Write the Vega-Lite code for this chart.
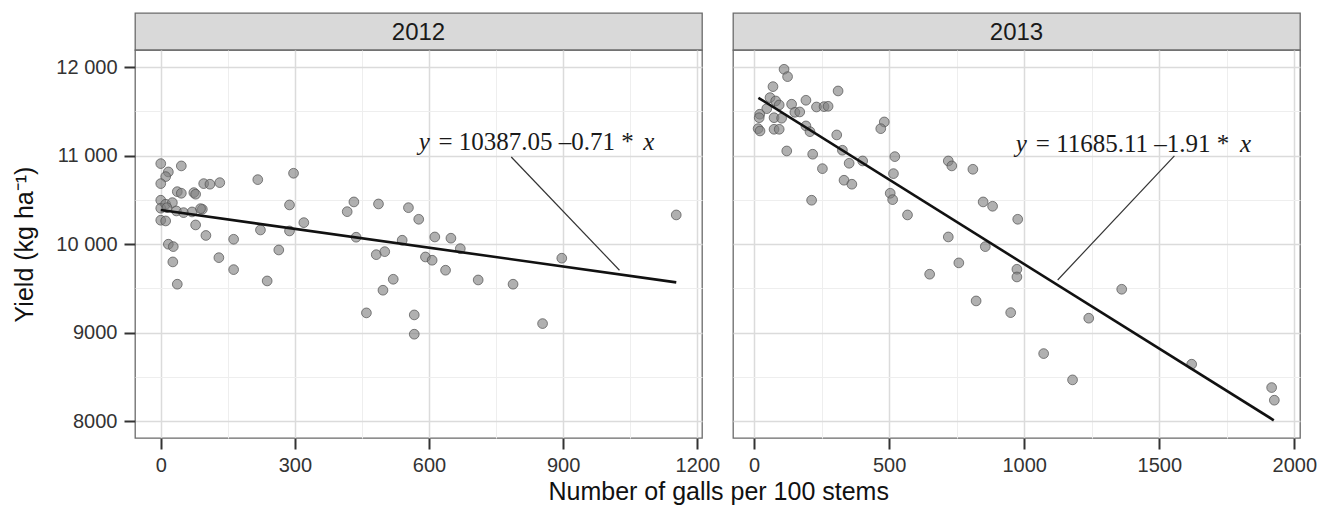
{
  "$schema": "https://vega.github.io/schema/vega-lite/v6.json",
  "background": "white",
  "padding": {"left": 12, "top": 12, "right": 5, "bottom": 4},
  "bounds": "flush",
  "columns": 2,
  "spacing": {"row": 0, "column": 31},
  "config": {
    "font": "Liberation Sans",
    "view": {"stroke": "#6a6a6a", "strokeWidth": 1.3},
    "axis": {
      "labelFont": "Liberation Sans",
      "labelFontSize": 20,
      "labelColor": "#333333",
      "tickColor": "#333333",
      "tickWidth": 2,
      "tickSize": 11,
      "domain": false,
      "labelFlush": false,
      "labelOverlap": false,
      "titleFont": "Liberation Sans",
      "titleFontSize": 25,
      "titleFontWeight": "normal",
      "titleColor": "#111111"
    }
  },
  "title": {
    "text": "Number of galls per 100 stems",
    "orient": "bottom",
    "anchor": "middle",
    "font": "Liberation Sans",
    "fontSize": 25,
    "fontWeight": "normal",
    "color": "#111111",
    "offset": 4,
    "dx": 54
  },
  "datasets": {
    "points": [
      {"year": 2012, "galls": 0, "yield": 10911},
      {"year": 2012, "galls": 46, "yield": 10885},
      {"year": 2012, "galls": 17, "yield": 10817},
      {"year": 2012, "galls": 11, "yield": 10764},
      {"year": 2012, "galls": 0, "yield": 10685},
      {"year": 2012, "galls": 96, "yield": 10685},
      {"year": 2012, "galls": 110, "yield": 10678},
      {"year": 2012, "galls": 132, "yield": 10696},
      {"year": 2012, "galls": 217, "yield": 10730},
      {"year": 2012, "galls": 297, "yield": 10802},
      {"year": 2012, "galls": 37, "yield": 10594},
      {"year": 2012, "galls": 46, "yield": 10576},
      {"year": 2012, "galls": 74, "yield": 10583},
      {"year": 2012, "galls": 78, "yield": 10565},
      {"year": 2012, "galls": 0, "yield": 10497},
      {"year": 2012, "galls": 0, "yield": 10407},
      {"year": 2012, "galls": 11, "yield": 10452},
      {"year": 2012, "galls": 26, "yield": 10470},
      {"year": 2012, "galls": 14, "yield": 10413},
      {"year": 2012, "galls": 35, "yield": 10376},
      {"year": 2012, "galls": 51, "yield": 10357},
      {"year": 2012, "galls": 70, "yield": 10365},
      {"year": 2012, "galls": 93, "yield": 10395},
      {"year": 2012, "galls": 89, "yield": 10402},
      {"year": 2012, "galls": 288, "yield": 10444},
      {"year": 2012, "galls": 432, "yield": 10478},
      {"year": 2012, "galls": 417, "yield": 10368},
      {"year": 2012, "galls": 487, "yield": 10455},
      {"year": 2012, "galls": 554, "yield": 10413},
      {"year": 2012, "galls": 577, "yield": 10282},
      {"year": 2012, "galls": 0, "yield": 10271},
      {"year": 2012, "galls": 11, "yield": 10263},
      {"year": 2012, "galls": 320, "yield": 10244},
      {"year": 2012, "galls": 78, "yield": 10218},
      {"year": 2012, "galls": 101, "yield": 10099},
      {"year": 2012, "galls": 223, "yield": 10161},
      {"year": 2012, "galls": 288, "yield": 10150},
      {"year": 2012, "galls": 163, "yield": 10056},
      {"year": 2012, "galls": 17, "yield": 10000},
      {"year": 2012, "galls": 28, "yield": 9973},
      {"year": 2012, "galls": 437, "yield": 10079},
      {"year": 2012, "galls": 540, "yield": 10045},
      {"year": 2012, "galls": 264, "yield": 9935},
      {"year": 2012, "galls": 130, "yield": 9848},
      {"year": 2012, "galls": 27, "yield": 9800},
      {"year": 2012, "galls": 482, "yield": 9882},
      {"year": 2012, "galls": 501, "yield": 9916},
      {"year": 2012, "galls": 163, "yield": 9713},
      {"year": 2012, "galls": 238, "yield": 9585},
      {"year": 2012, "galls": 37, "yield": 9548},
      {"year": 2012, "galls": 520, "yield": 9604},
      {"year": 2012, "galls": 497, "yield": 9480},
      {"year": 2012, "galls": 460, "yield": 9224},
      {"year": 2012, "galls": 567, "yield": 9201},
      {"year": 2012, "galls": 567, "yield": 8983},
      {"year": 2012, "galls": 613, "yield": 10082},
      {"year": 2012, "galls": 649, "yield": 10068},
      {"year": 2012, "galls": 670, "yield": 9950},
      {"year": 2012, "galls": 592, "yield": 9856},
      {"year": 2012, "galls": 607, "yield": 9819},
      {"year": 2012, "galls": 637, "yield": 9706},
      {"year": 2012, "galls": 710, "yield": 9596},
      {"year": 2012, "galls": 788, "yield": 9548},
      {"year": 2012, "galls": 897, "yield": 9842},
      {"year": 2012, "galls": 854, "yield": 9103},
      {"year": 2012, "galls": 1153, "yield": 10331},
      {"year": 2013, "galls": 111, "yield": 11977},
      {"year": 2013, "galls": 124, "yield": 11894},
      {"year": 2013, "galls": 70, "yield": 11781},
      {"year": 2013, "galls": 311, "yield": 11732},
      {"year": 2013, "galls": 59, "yield": 11657},
      {"year": 2013, "galls": 80, "yield": 11619},
      {"year": 2013, "galls": 93, "yield": 11574},
      {"year": 2013, "galls": 139, "yield": 11582},
      {"year": 2013, "galls": 192, "yield": 11627},
      {"year": 2013, "galls": 47, "yield": 11532},
      {"year": 2013, "galls": 231, "yield": 11551},
      {"year": 2013, "galls": 259, "yield": 11555},
      {"year": 2013, "galls": 274, "yield": 11559},
      {"year": 2013, "galls": 151, "yield": 11491},
      {"year": 2013, "galls": 169, "yield": 11495},
      {"year": 2013, "galls": 21, "yield": 11469},
      {"year": 2013, "galls": 19, "yield": 11430},
      {"year": 2013, "galls": 74, "yield": 11430},
      {"year": 2013, "galls": 102, "yield": 11424},
      {"year": 2013, "galls": 482, "yield": 11382},
      {"year": 2013, "galls": 469, "yield": 11306},
      {"year": 2013, "galls": 192, "yield": 11337},
      {"year": 2013, "galls": 207, "yield": 11272},
      {"year": 2013, "galls": 15, "yield": 11306},
      {"year": 2013, "galls": 22, "yield": 11280},
      {"year": 2013, "galls": 74, "yield": 11299},
      {"year": 2013, "galls": 93, "yield": 11299},
      {"year": 2013, "galls": 306, "yield": 11235},
      {"year": 2013, "galls": 121, "yield": 11054},
      {"year": 2013, "galls": 217, "yield": 11017},
      {"year": 2013, "galls": 327, "yield": 11062},
      {"year": 2013, "galls": 352, "yield": 10915},
      {"year": 2013, "galls": 402, "yield": 10941},
      {"year": 2013, "galls": 521, "yield": 10990},
      {"year": 2013, "galls": 253, "yield": 10854},
      {"year": 2013, "galls": 719, "yield": 10941},
      {"year": 2013, "galls": 732, "yield": 10885},
      {"year": 2013, "galls": 810, "yield": 10847},
      {"year": 2013, "galls": 516, "yield": 10798},
      {"year": 2013, "galls": 333, "yield": 10723},
      {"year": 2013, "galls": 362, "yield": 10678},
      {"year": 2013, "galls": 504, "yield": 10576},
      {"year": 2013, "galls": 513, "yield": 10504},
      {"year": 2013, "galls": 213, "yield": 10497},
      {"year": 2013, "galls": 568, "yield": 10331},
      {"year": 2013, "galls": 848, "yield": 10478},
      {"year": 2013, "galls": 883, "yield": 10429},
      {"year": 2013, "galls": 976, "yield": 10282},
      {"year": 2013, "galls": 719, "yield": 10082},
      {"year": 2013, "galls": 856, "yield": 9973},
      {"year": 2013, "galls": 758, "yield": 9789},
      {"year": 2013, "galls": 650, "yield": 9661},
      {"year": 2013, "galls": 973, "yield": 9717},
      {"year": 2013, "galls": 973, "yield": 9630},
      {"year": 2013, "galls": 822, "yield": 9359},
      {"year": 2013, "galls": 950, "yield": 9227},
      {"year": 2013, "galls": 1361, "yield": 9491},
      {"year": 2013, "galls": 1239, "yield": 9164},
      {"year": 2013, "galls": 1072, "yield": 8764},
      {"year": 2013, "galls": 1179, "yield": 8467},
      {"year": 2013, "galls": 1620, "yield": 8644},
      {"year": 2013, "galls": 1916, "yield": 8380},
      {"year": 2013, "galls": 1926, "yield": 8237}
    ],
    "fit": [
      {"year": 2012, "galls": 0, "yield": 10387.05},
      {"year": 2012, "galls": 1153, "yield": 9568.4},
      {"year": 2013, "galls": 16, "yield": 11654.5},
      {"year": 2013, "galls": 1924, "yield": 8010.3}
    ],
    "leaders": [
      {"year": 2012, "galls": 784, "yield": 10986, "galls2": 1026, "yield2": 9706},
      {"year": 2013, "galls": 1556, "yield": 10998, "galls2": 1124, "yield2": 9596}
    ],
    "labels": [
      {"year": 2012, "kind": "y", "text": "y", "galls": 577, "yield": 11062},
      {"year": 2012, "kind": "expr", "text": "= 10387.05 –0.71 *", "galls": 621, "yield": 11062},
      {"year": 2012, "kind": "x", "text": "x", "galls": 1104, "yield": 11062},
      {"year": 2013, "kind": "y", "text": "y", "galls": 969, "yield": 11043},
      {"year": 2013, "kind": "expr", "text": "= 11685.11 –1.91 *", "galls": 1043, "yield": 11043},
      {"year": 2013, "kind": "x", "text": "x", "galls": 1840, "yield": 11043}
    ],
    "strips": [
      {"year": "2012"},
      {"year": "2013"}
    ]
  },
  "concat": [
    {
      "width": 567,
      "height": 37,
      "view": {"fill": "#d9d9d9", "stroke": "#6a6a6a", "strokeWidth": 1.3},
      "data": {"name": "strips"},
      "transform": [{"filter": "datum.year == '2012'"}],
      "mark": {"type": "text", "font": "Liberation Sans", "fontSize": 24, "color": "#1a1a1a", "baseline": "middle", "align": "center", "dy": 1},
      "encoding": {"text": {"field": "year", "type": "nominal"}}
    },
    {
      "width": 567,
      "height": 37,
      "view": {"fill": "#d9d9d9", "stroke": "#6a6a6a", "strokeWidth": 1.3},
      "data": {"name": "strips"},
      "transform": [{"filter": "datum.year == '2013'"}],
      "mark": {"type": "text", "font": "Liberation Sans", "fontSize": 24, "color": "#1a1a1a", "baseline": "middle", "align": "center", "dy": 1},
      "encoding": {"text": {"field": "year", "type": "nominal"}}
    },
    {
      "width": 567,
      "height": 388,
      "layer": [
        {
          "data": {"name": "points"},
          "transform": [{"filter": "datum.year == 2012"}],
          "mark": {"type": "circle", "size": 95, "fill": "#808080", "fillOpacity": 0.62, "stroke": "#505050", "strokeOpacity": 0.7, "strokeWidth": 1},
          "encoding": {
            "x": {
              "field": "galls", "type": "quantitative",
              "scale": {"domain": [-57.6, 1210.6], "nice": false, "zero": false},
              "axis": {
                "title": null, "format": "d",
                "values": [0, 150, 300, 450, 600, 750, 900, 1050, 1200],
                "labelExpr": "datum.value % 300 == 0 ? datum.label : ''",
                "tickOpacity": {"condition": {"test": "datum.value % 300 != 0", "value": 0}, "value": 1},
                "gridColor": {"condition": {"test": "datum.value % 300 != 0", "value": "#eeeeee"}, "value": "#dbdbdb"},
                "gridWidth": {"condition": {"test": "datum.value % 300 != 0", "value": 1}, "value": 1.5},
                "labelPadding": 6
              }
            },
            "y": {
              "field": "yield", "type": "quantitative",
              "scale": {"domain": [7810, 12195], "nice": false, "zero": false},
              "axis": {
                "title": "Yield (kg ha⁻¹)",
                "titlePadding": 18,
                "values": [8000, 8500, 9000, 9500, 10000, 10500, 11000, 11500, 12000],
                "labelExpr": "datum.value % 1000 != 0 ? '' : (datum.value >= 10000 ? floor(datum.value / 1000) + ' 000' : '' + datum.value)",
                "tickOpacity": {"condition": {"test": "datum.value % 1000 != 0", "value": 0}, "value": 1},
                "gridColor": {"condition": {"test": "datum.value % 1000 != 0", "value": "#eeeeee"}, "value": "#dbdbdb"},
                "gridWidth": {"condition": {"test": "datum.value % 1000 != 0", "value": 1}, "value": 1.5},
                "labelPadding": 7
              }
            }
          }
        },
        {
          "data": {"name": "fit"},
          "transform": [{"filter": "datum.year == 2012"}],
          "mark": {"type": "line", "color": "#111111", "strokeWidth": 2.6},
          "encoding": {
            "x": {"field": "galls", "type": "quantitative"},
            "y": {"field": "yield", "type": "quantitative"}
          }
        },
        {
          "data": {"name": "leaders"},
          "transform": [{"filter": "datum.year == 2012"}],
          "mark": {"type": "rule", "color": "#333333", "strokeWidth": 1.2},
          "encoding": {
            "x": {"field": "galls", "type": "quantitative"},
            "y": {"field": "yield", "type": "quantitative"},
            "x2": {"field": "galls2"},
            "y2": {"field": "yield2"}
          }
        },
        {
          "data": {"name": "labels"},
          "transform": [{"filter": "datum.year == 2012 && datum.kind == 'expr'"}],
          "mark": {"type": "text", "font": "Liberation Serif", "fontSize": 25, "color": "#1a1a1a", "align": "left", "baseline": "alphabetic"},
          "encoding": {
            "x": {"field": "galls", "type": "quantitative"},
            "y": {"field": "yield", "type": "quantitative"},
            "text": {"field": "text", "type": "nominal"}
          }
        },
        {
          "data": {"name": "labels"},
          "transform": [{"filter": "datum.year == 2012 && datum.kind == 'y'"}],
          "mark": {"type": "text", "font": "Liberation Serif", "fontSize": 25, "fontStyle": "italic", "color": "#1a1a1a", "align": "left", "baseline": "alphabetic"},
          "encoding": {
            "x": {"field": "galls", "type": "quantitative"},
            "y": {"field": "yield", "type": "quantitative"},
            "text": {"field": "text", "type": "nominal"}
          }
        },
        {
          "data": {"name": "labels"},
          "transform": [{"filter": "datum.year == 2012 && datum.kind == 'x'"}],
          "mark": {"type": "text", "font": "Liberation Serif", "fontSize": 25, "fontStyle": "italic", "color": "#1a1a1a", "align": "right", "baseline": "alphabetic"},
          "encoding": {
            "x": {"field": "galls", "type": "quantitative"},
            "y": {"field": "yield", "type": "quantitative"},
            "text": {"field": "text", "type": "nominal"}
          }
        }
      ]
    },
    {
      "width": 567,
      "height": 388,
      "layer": [
        {
          "data": {"name": "points"},
          "transform": [{"filter": "datum.year == 2013"}],
          "mark": {"type": "circle", "size": 95, "fill": "#808080", "fillOpacity": 0.62, "stroke": "#505050", "strokeOpacity": 0.7, "strokeWidth": 1},
          "encoding": {
            "x": {
              "field": "galls", "type": "quantitative",
              "scale": {"domain": [-78, 2021], "nice": false, "zero": false},
              "axis": {
                "title": null, "format": "d",
                "values": [0, 250, 500, 750, 1000, 1250, 1500, 1750, 2000],
                "labelExpr": "datum.value % 500 == 0 ? datum.label : ''",
                "tickOpacity": {"condition": {"test": "datum.value % 500 != 0", "value": 0}, "value": 1},
                "gridColor": {"condition": {"test": "datum.value % 500 != 0", "value": "#eeeeee"}, "value": "#dbdbdb"},
                "gridWidth": {"condition": {"test": "datum.value % 500 != 0", "value": 1}, "value": 1.5},
                "labelPadding": 6
              }
            },
            "y": {
              "field": "yield", "type": "quantitative",
              "scale": {"domain": [7810, 12195], "nice": false, "zero": false},
              "axis": {
                "title": null,
                "labels": false,
                "ticks": false,
                "values": [8000, 8500, 9000, 9500, 10000, 10500, 11000, 11500, 12000],
                "gridColor": {"condition": {"test": "datum.value % 1000 != 0", "value": "#eeeeee"}, "value": "#dbdbdb"},
                "gridWidth": {"condition": {"test": "datum.value % 1000 != 0", "value": 1}, "value": 1.5}
              }
            }
          }
        },
        {
          "data": {"name": "fit"},
          "transform": [{"filter": "datum.year == 2013"}],
          "mark": {"type": "line", "color": "#111111", "strokeWidth": 2.6},
          "encoding": {
            "x": {"field": "galls", "type": "quantitative"},
            "y": {"field": "yield", "type": "quantitative"}
          }
        },
        {
          "data": {"name": "leaders"},
          "transform": [{"filter": "datum.year == 2013"}],
          "mark": {"type": "rule", "color": "#333333", "strokeWidth": 1.2},
          "encoding": {
            "x": {"field": "galls", "type": "quantitative"},
            "y": {"field": "yield", "type": "quantitative"},
            "x2": {"field": "galls2"},
            "y2": {"field": "yield2"}
          }
        },
        {
          "data": {"name": "labels"},
          "transform": [{"filter": "datum.year == 2013 && datum.kind == 'expr'"}],
          "mark": {"type": "text", "font": "Liberation Serif", "fontSize": 25, "color": "#1a1a1a", "align": "left", "baseline": "alphabetic"},
          "encoding": {
            "x": {"field": "galls", "type": "quantitative"},
            "y": {"field": "yield", "type": "quantitative"},
            "text": {"field": "text", "type": "nominal"}
          }
        },
        {
          "data": {"name": "labels"},
          "transform": [{"filter": "datum.year == 2013 && datum.kind == 'y'"}],
          "mark": {"type": "text", "font": "Liberation Serif", "fontSize": 25, "fontStyle": "italic", "color": "#1a1a1a", "align": "left", "baseline": "alphabetic"},
          "encoding": {
            "x": {"field": "galls", "type": "quantitative"},
            "y": {"field": "yield", "type": "quantitative"},
            "text": {"field": "text", "type": "nominal"}
          }
        },
        {
          "data": {"name": "labels"},
          "transform": [{"filter": "datum.year == 2013 && datum.kind == 'x'"}],
          "mark": {"type": "text", "font": "Liberation Serif", "fontSize": 25, "fontStyle": "italic", "color": "#1a1a1a", "align": "right", "baseline": "alphabetic"},
          "encoding": {
            "x": {"field": "galls", "type": "quantitative"},
            "y": {"field": "yield", "type": "quantitative"},
            "text": {"field": "text", "type": "nominal"}
          }
        }
      ]
    }
  ]
}
